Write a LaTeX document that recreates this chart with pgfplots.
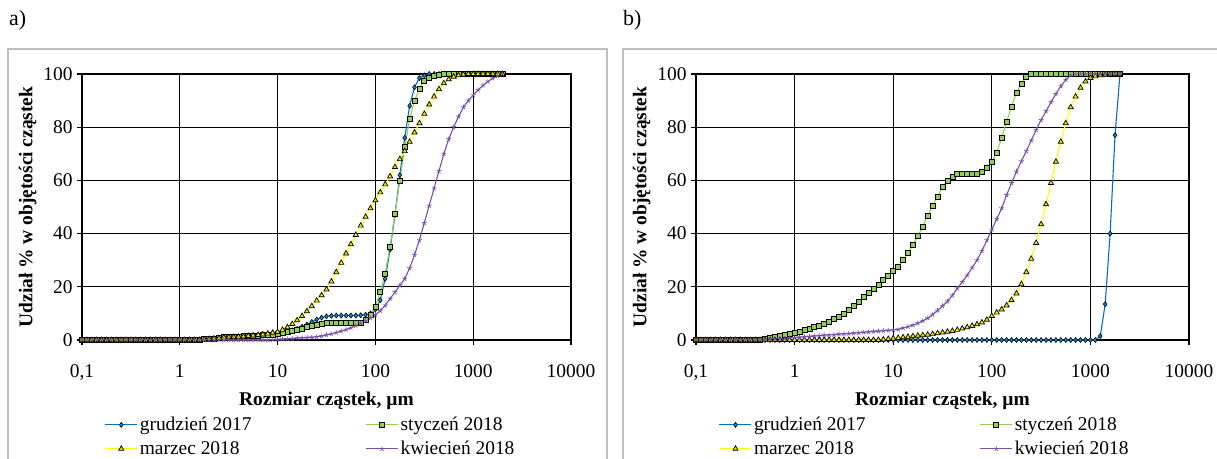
\documentclass[border=0pt]{standalone}
\usepackage{fontspec}
\setmainfont{Liberation Serif}
\usepackage{pgfplots}
\usepackage{pgfplotstable}
\pgfplotsset{compat=1.18}
\definecolor{cblue}{RGB}{0,112,192}
\definecolor{cbluef}{RGB}{30,140,215}
\definecolor{cgreen}{RGB}{146,208,80}
\definecolor{cyellow}{RGB}{255,255,0}
\definecolor{cyellowf}{RGB}{240,230,0}
\definecolor{cpurple}{RGB}{120,80,170}
\definecolor{cframe}{RGB}{190,190,190}

\pgfplotstableread{
k x a1 a2 a3 a4 b1 b2 b3 b4
0 0.1 0 0 0 0 0 0 0 0
1 0.1122 0 0 0 0 0 0 0 0
2 0.1259 0 0 0 0 0 0 0 0
3 0.1413 0 0 0 0 0 0 0 0
4 0.1585 0 0 0 0 0 0 0 0
5 0.1778 0 0 0 0 0 0 0 0
6 0.1995 0 0 0 0 0 0 0 0
7 0.2239 0 0 0 0 0 0 0 0
8 0.2512 0 0 0 0 0 0 0 0
9 0.2818 0 0 0 0 0 0 0 0
10 0.3162 0 0 0 0 0 0 0 0
11 0.3548 0 0 0 0 0 0 0 0
12 0.3981 0 0 0 0 0 0 0 0
13 0.4467 0 0 0 0 0 0 0 0
14 0.5012 0 0 0 0 0 0.3 0 0.1
15 0.5623 0 0 0 0 0 0.8 0 0.2
16 0.6310 0 0 0 0 0 1.2 0 0.3
17 0.7079 0 0 0 0 0 1.6 0 0.4
18 0.7943 0 0 0 0 0 1.9 0 0.5
19 0.8913 0 0 0 0 0 2.2 0 0.7
20 1 0 0 0 0 0 2.6 0 0.9
21 1.122 0 0 0 0 0 3.1 0 1.0
22 1.259 0 0 0 0 0 3.7 0 1.2
23 1.413 0 0 0 0 0 4.3 0 1.3
24 1.585 0 0 0 0 0 4.8 0 1.5
25 1.778 0.3 0.3 0.2 0 0 5.4 0 1.6
26 1.995 0.5 0.5 0.3 0 0 6.1 0 1.8
27 2.239 0.6 0.6 0.5 0 0 6.9 0 1.9
28 2.512 0.8 0.8 0.7 0 0 7.8 0 2.0
29 2.818 1.0 1.0 0.9 0 0 8.7 0 2.2
30 3.162 1.1 1.1 1.0 0 0 9.8 0 2.3
31 3.548 1.2 1.2 1.1 0 0 11.3 0 2.4
32 3.981 1.3 1.3 1.2 0 0 12.9 0 2.6
33 4.467 1.4 1.4 1.3 0 0 14.4 0 2.7
34 5.012 1.5 1.5 1.5 0 0 16.2 0 2.9
35 5.623 1.6 1.6 1.7 0 0 17.6 0 3.0
36 6.310 1.7 1.7 1.9 0 0 19.1 0 3.2
37 7.079 1.8 1.8 2.1 0 0 20.8 0 3.3
38 7.943 1.9 1.9 2.4 0 0 22.5 0.2 3.5
39 8.913 2.0 2.0 2.7 0.1 0 24.1 0.4 3.6
40 10 2.3 2.2 3.0 0.2 0 26 0.6 3.8
41 11.22 2.7 2.5 3.8 0.3 0 27.6 0.8 4.0
42 12.59 3.1 2.9 4.8 0.4 0 30 1.0 4.5
43 14.13 3.6 3.3 6.0 0.5 0 32.7 1.2 5.0
44 15.85 4.2 3.8 7.4 0.7 0 35.8 1.4 5.6
45 17.78 5.0 4.3 9.0 0.8 0 39.2 1.6 6.3
46 19.95 5.8 4.8 10.8 0.9 0 42.6 1.8 7.2
47 22.39 6.8 5.3 12.7 1.0 0 46.8 2.0 8.2
48 25.12 7.7 5.8 14.8 1.2 0 50.6 2.2 9.6
49 28.18 8.4 6.2 16.8 1.5 0 54 2.5 11.1
50 31.62 8.9 6.4 19.0 1.9 0 57.6 2.8 12.8
51 35.48 9.1 6.5 22.0 2.3 0 59.8 3.1 14.5
52 39.81 9.2 6.5 25.5 2.8 0 61.4 3.4 16.8
53 44.67 9.2 6.5 29.0 3.3 0 62.3 3.8 19.4
54 50.12 9.2 6.5 32.5 3.9 0 62.5 4.3 21.8
55 56.23 9.2 6.5 36.0 4.6 0 62.5 4.8 24.3
56 63.10 9.2 6.5 39.5 5.4 0 62.5 5.3 27.2
57 70.79 9.3 6.6 43.0 6.3 0 62.6 5.9 30
58 79.43 9.5 7.5 46.3 7.3 0 63.3 6.6 33.5
59 89.13 10.0 9.5 49.5 8.3 0 64.7 7.6 37.5
60 100 11.5 12.5 52.5 9.5 0 67 9 41.5
61 112.2 15 18 55.5 11 0 70.5 10.3 45.5
62 125.9 23 25 58.5 13 0 76 11.5 49.5
63 141.3 34 35 61.5 15.5 0 82 13 54.5
64 158.5 47 47.5 65.0 18 0 87.8 15 59
65 177.8 62 60 68.0 20.5 0 93 17.5 63.3
66 199.5 76 72.5 71.0 23 0 96.4 21 67.2
67 223.9 88 83 74.5 27 0 98.8 25.5 71
68 251.2 95 90 78.0 32 0 99.9 30.5 75
69 281.8 98.5 94.5 81.5 37.5 0 100 36.5 79
70 316.2 99.5 97.5 85.0 44 0 100 43.5 82.7
71 354.8 100 98.5 88.5 50.5 0 100 51 86
72 398.1 100 99.3 91.5 57 0 100 59 89.4
73 446.7 100 99.7 94.3 63.5 0 100 67 92.5
74 501.2 100 100 96.5 70 0 100 74.5 95.4
75 562.3 100 100 98.0 75.5 0 100 81.5 97.8
76 631.0 100 100 99.0 80 0 100 87.5 99.6
77 707.9 100 100 99.5 84 0 100 91.5 100
78 794.3 100 100 99.8 87.5 0 100 94.8 100
79 891.3 100 100 100 90 0 100 97.2 100
80 1000 100 100 100 92 0 100 98.5 100
81 1122 100 100 100 94 0 100 99.1 100
82 1259 100 100 100 95.7 1.5 100 99.5 100
83 1413 100 100 100 97.2 13.5 100 99.7 100
84 1585 100 100 100 98.4 40 100 99.9 100
85 1778 100 100 100 99.3 77 100 100 100
86 1995 100 100 100 100 100 100 100 100
}\data

\pgfplotsset{
  legend image code/.code={\draw[mark repeat=2,mark phase=2,#1] plot coordinates {(0bp,0bp) (16bp,0bp) (32bp,0bp)};},
  every axis/.append style={
    xmode=log, xmin=0.1, xmax=10000, ymin=0, ymax=100,
    scale only axis, height=266bp,
    xtick={0.1,1,10,100,1000,10000},
    xticklabels={{0,1},1,10,100,1000,10000},
    xminorticks=false,
    ytick={0,20,40,60,80,100},
    grid=major, major grid style={black, line width=1.1bp},
    axis line style={black, line width=1.1bp},
    tick style={black, line width=1.1bp},
    tick align=outside, major tick length=5bp,
    tick pos=left,
    ticklabel style={font=\fontsize{19.5}{19.5}\selectfont},
    xticklabel style={yshift=-16bp},
    yticklabel style={xshift=-1bp},
    /pgf/number format/assume math mode=true,
    xlabel={Rozmiar cząstek, µm},
    ylabel={Udział \% w objętości cząstek},
    xlabel style={yshift=-5bp},
    label style={font=\fontsize{19.5}{20}\selectfont\bfseries},
    clip=false,
    legend columns=2,
    legend cell align=left,
    legend style={draw=none, fill=none, font=\fontsize{19.5}{19.5}\selectfont,
      at={(0.04,-0.275)}, anchor=north west, row sep=5bp,
      /tikz/every even column/.append style={column sep=112bp}},
  },
}

\begin{document}
\begin{tikzpicture}
\useasboundingbox (0bp,0bp) rectangle (1217bp,459bp);
\draw[cframe, line width=1.5bp] (8bp,-2bp) -- (8bp,410bp) -- (607bp,410bp) -- (607bp,-2bp);
\draw[cframe, line width=1.5bp] (623bp,-2bp) -- (623bp,410bp) -- (1220bp,410bp);
\node[anchor=west, inner sep=0pt, font=\fontsize{22}{22}\selectfont] at (9bp,439bp) {a)};
\node[anchor=west, inner sep=0pt, font=\fontsize{22}{22}\selectfont] at (623bp,439bp) {b)};
\begin{axis}[width=489bp, at={(82bp,119bp)}, anchor=south west]
\addplot[color=cblue, line width=1.1bp, mark=diamond*, mark size=2.5bp, mark options={fill=cbluef, draw=black, line width=0.6bp}] table[x=x,y=a1]{\data}; \addlegendentry{grudzień 2017}
\addplot[color=cgreen, line width=1.1bp, mark=square*, mark size=2.5bp, mark options={fill=cgreen, draw=black, line width=0.7bp}] table[x=x,y=a2]{\data}; \addlegendentry{styczeń 2018}
\addplot[color=cyellow, line width=1.1bp, mark=triangle*, mark size=3bp, mark options={fill=cyellowf, draw=black, line width=0.7bp}] table[x=x,y=a3]{\data}; \addlegendentry{marzec 2018}
\addplot[color=cpurple, line width=1.1bp, mark=star, mark size=2.5bp, mark options={draw=cpurple, line width=0.7bp}] table[x=x,y=a4]{\data}; \addlegendentry{kwiecień 2018}
\end{axis}
\begin{axis}[width=493bp, at={(696bp,119bp)}, anchor=south west]
\addplot[color=cblue, line width=1.1bp, mark=diamond*, mark size=2.5bp, mark options={fill=cbluef, draw=black, line width=0.6bp}] table[x=x,y=b1]{\data}; \addlegendentry{grudzień 2017}
\addplot[color=cgreen, line width=1.1bp, mark=square*, mark size=2.5bp, mark options={fill=cgreen, draw=black, line width=0.7bp}] table[x=x,y=b2]{\data}; \addlegendentry{styczeń 2018}
\addplot[color=cyellow, line width=1.1bp, mark=triangle*, mark size=3bp, mark options={fill=cyellowf, draw=black, line width=0.7bp}] table[x=x,y=b3]{\data}; \addlegendentry{marzec 2018}
\addplot[color=cpurple, line width=1.1bp, mark=star, mark size=2.5bp, mark options={draw=cpurple, line width=0.7bp}] table[x=x,y=b4]{\data}; \addlegendentry{kwiecień 2018}
\end{axis}
\end{tikzpicture}
\end{document}
